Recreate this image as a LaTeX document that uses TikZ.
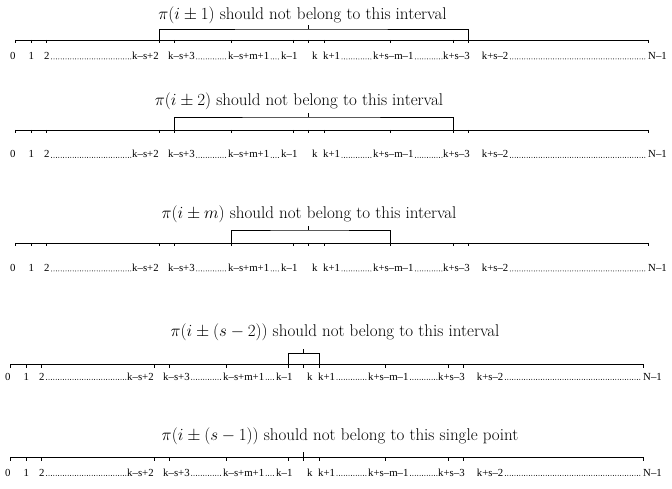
\documentclass[tikz,border=0pt]{standalone}
\usepackage{fix-cm}
\usepackage{fontspec}
\newfontfamily\lblfont{Liberation Serif}
\begin{document}
\begin{tikzpicture}[
    x=1pt, y=-1pt,
    axis/.style={line width=0.8pt},
    bracket/.style={line width=0.8pt},
    lbl/.style={anchor=base west, inner sep=0pt, font=\lblfont\fontsize{10.8}{13}\selectfont},
    dotrow/.style={line width=1pt, line cap=round, dash pattern=on 0pt off 2.4pt},
    title/.style={anchor=base, inner sep=0pt, font=\fontsize{17}{20}\selectfont}
]
    \useasboundingbox (0,0) rectangle (672,489);

    % five number lines: row / axis y / label baseline / shift
    \foreach \r/\ay/\ly/\dx in {1/40/59.5/0, 2/130/158/0, 3/243/271.5/0, 4/364/380/-5, 5/457/476/-5} {
        \begin{scope}[xshift=\dx pt]
            \foreach \n/\x in {0/15.7, 1/31, 2/46, a/159.3, b/174.7, c/231.7, d/293.3, k/308.7,
                               e/324, f/390.7, g/453, h/468, N/648.3}
                \coordinate (r\r-\n) at (\x,\ay);
            \draw[axis] (r\r-0) -- (r\r-N);
            \foreach \n in {0, 1, 2, a, b, c, d, k, e, f, g, h, N}
                \draw[axis] (r\r-\n) -- ++(0,3.5);
            \foreach \n/\x/\t in {0/10/0, 1/28.5/1, 2/44/2, a/132/k–s+2, b/168/k–s+3,
                                  c/228/k–s+m+1, d/281/k–1, k/312/k, e/323/k+1, f/373/k+s–m–1,
                                  g/443/k+s–3, h/481.7/k+s–2, N/648/N–1}
                \node[lbl] (p\r-\n) at (\x,\ly) {\t};
            \foreach \a/\b in {2/a, b/c, c/d, e/f, f/g, h/N}
                \draw[dotrow] ([xshift=1.8pt,yshift=0.6pt]p\r-\a.base east) -- ([xshift=-1pt,yshift=0.6pt]p\r-\b.base west);
        \end{scope}
    }

    % forbidden intervals
    \coordinate (b1) at ([yshift=11pt]r1-k);
    \coordinate (b2) at ([yshift=13pt]r2-k);
    \coordinate (b3) at ([yshift=13pt]r3-k);
    \coordinate (b4) at ([yshift=10.5pt]r4-k);
    \draw[bracket] (r1-a) |- (b1) -| (r1-h);
    \draw[bracket] (r2-b) |- (b2) -| (r2-g);
    \draw[bracket] (r3-c) |- (b3) -| (r3-f);
    \draw[bracket] (r4-d) |- (b4) -| (r4-e);
    \draw[bracket] (b1) -- ++(0,-4);
    \draw[bracket] (b2) -- ++(0,-4);
    \draw[bracket] (b3) -- ++(0,-4);
    \draw[bracket] (b4) -- ++(0,-5);
    \draw[bracket] (r5-k) -- ++(0,-5.5);

    \node[title] (t1) at (302.5,20) {$\pi(i\pm1)$ should not belong to this interval};
    \node[title] (t2) at (299,106) {$\pi(i\pm2)$ should not belong to this interval};
    \node[title] (t3) at (309,219) {$\pi(i\pm m)$ should not belong to this interval};
    \node[title] (t4) at (335,336) {$\pi(i\pm(s-2))$ should not belong to this interval};
    \node[title] (t5) at (340,440) {$\pi(i\pm(s-1))$ should not belong to this single point};
\end{tikzpicture}
\end{document}
